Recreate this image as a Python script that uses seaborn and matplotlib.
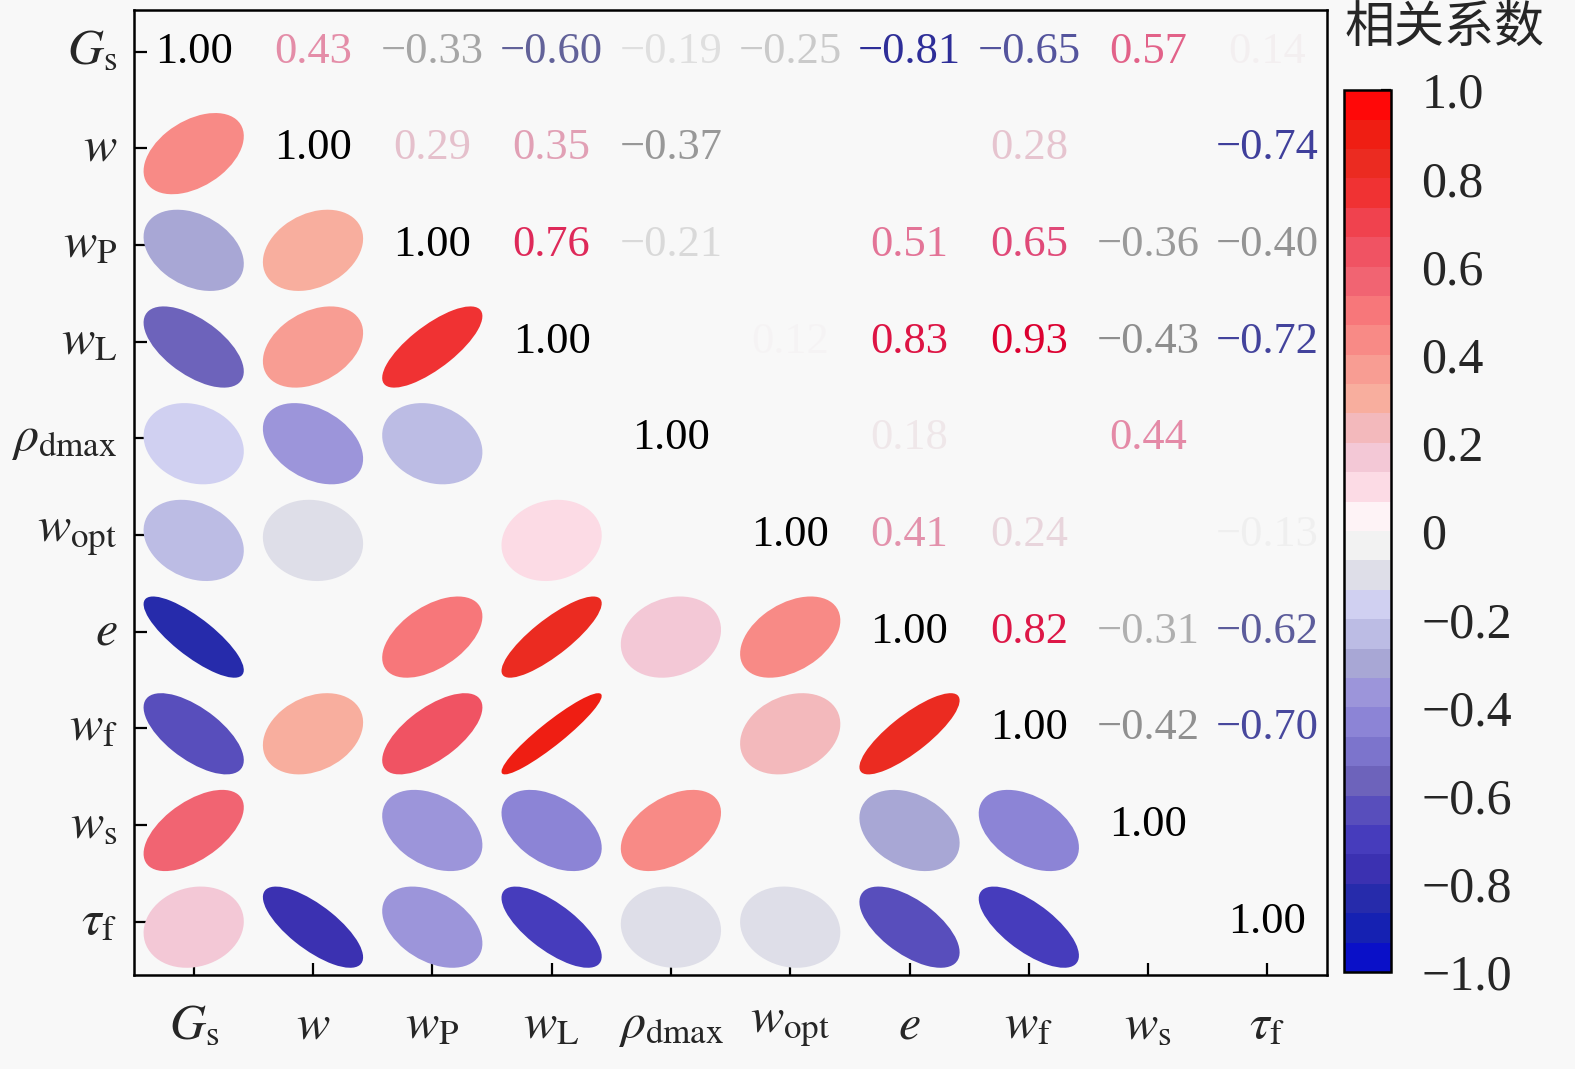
import numpy as np
import pandas as pd
import seaborn as sns
import matplotlib.pyplot as plt
from matplotlib.patches import Ellipse
from matplotlib.colors import LinearSegmentedColormap

# variable names (mathtext)
labels = [r"$G_{\rm s}$", r"$w$", r"$w_{\rm P}$", r"$w_{\rm L}$", r"$\rho_{\rm dmax}$",
          r"$w_{\rm opt}$", r"$e$", r"$w_{\rm f}$", r"$w_{\rm s}$", r"$\tau_{\rm f}$"]

# upper triangle of the correlation matrix, row by row (right of the diagonal)
gs_row = [0.43, -0.33, -0.60, -0.19, -0.25, -0.81, -0.65, 0.57, 0.14]
w_row = [0.29, 0.35, -0.37, -0.08, 0.01, 0.28, 0.03, -0.74]
wp_row = [0.76, -0.21, 0.02, 0.51, 0.65, -0.36, -0.40]
wl_row = [0.02, 0.12, 0.83, 0.93, -0.43, -0.72]
rho_row = [-0.01, 0.18, 0.03, 0.44, -0.08]
wopt_row = [0.41, 0.24, 0.02, -0.13]
e_row = [0.82, -0.31, -0.62]
wf_row = [-0.42, -0.70]
ws_row = [-0.02]

cbar_ticks = [-1.0, -0.8, -0.6, -0.4, -0.2, 0.0, 0.2, 0.4, 0.6, 0.8, 1.0]
cbar_ticklabels = ["\u22121.0", "\u22120.8", "\u22120.6", "\u22120.4", "\u22120.2", "0",
                   "0.2", "0.4", "0.6", "0.8", "1.0"]

n = len(labels)
corr = np.eye(n)
for i, row in enumerate([gs_row, w_row, wp_row, wl_row, rho_row, wopt_row, e_row, wf_row, ws_row]):
    for k, v in enumerate(row):
        corr[i, i + 1 + k] = v
        corr[i + 1 + k, i] = v
df = pd.DataFrame(corr, index=labels, columns=labels)

cmap = LinearSegmentedColormap.from_list("corr", [
    (0.00, "#0a10c8"), (0.05, "#1a28a8"), (0.10, "#3a30b0"), (0.15, "#4a40c0"),
    (0.20, "#6a60b8"), (0.25, "#8078d0"), (0.30, "#9890dc"), (0.35, "#aaaad4"),
    (0.40, "#c8c8f0"), (0.435, "#dcdcf2"), (0.46, "#e0e0e0"), (0.50, "#ffffff"),
    (0.55, "#fcdce6"), (0.60, "#f0c0d0"), (0.65, "#f8b0a0"), (0.70, "#f89890"),
    (0.75, "#f87c7c"), (0.80, "#f06070"), (0.85, "#f04858"), (0.90, "#f03030"),
    (0.95, "#e82818"), (1.00, "#ff0808")], N=30)
# number colours: grey -> navy for negative, pale pink -> crimson for positive
neg_txt = LinearSegmentedColormap.from_list("neg_txt", ["#b4b4b4", "#8e8e8e", "#50509e", "#1a1a95"])
pos_txt = LinearSegmentedColormap.from_list("pos_txt", ["#dcc4cc", "#e48ca8", "#e04474", "#dc0030"])

bg = "#f8f8f8"
sns.set_theme(style="ticks")
plt.rcParams["font.family"] = ["Liberation Serif", "DejaVu Serif"]
plt.rcParams["mathtext.fontset"] = "stix"

fig = plt.figure(figsize=(15.75, 10.69), dpi=100, facecolor=bg)
ax = fig.add_axes([0.0851, 0.0879, 0.7575, 0.9027])
cax = fig.add_axes([0.8535, 0.0907, 0.0295, 0.825])
ax.set_facecolor(bg)

# heatmap draws nothing in the cells (all masked) but gives the grid and colorbar
sns.heatmap(df, mask=np.ones_like(corr, dtype=bool), cmap=cmap, vmin=-1, vmax=1,
            ax=ax, cbar_ax=cax, cbar=True)
cbar = ax.collections[0].colorbar

d = 0.84
for i in range(n):
    for j in range(n):
        r = corr[i, j]
        x, y = j + 0.5, i + 0.5
        if i > j:
            if abs(r) < 0.05:
                continue
            ell = Ellipse((x, y + 0.055), width=d * np.sqrt(1 + abs(r)), height=d * np.sqrt(1 - abs(r)),
                          angle=-45 if r > 0 else 45, facecolor=cmap((r + 1) / 2),
                          edgecolor="none", zorder=3)
            ax.add_patch(ell)
        elif i == j:
            ax.text(x, y, "1.00", ha="center", va="center", fontsize=32, color="black", zorder=4)
        else:
            t = float(np.clip((abs(r) - 0.2) / 0.7, 0, 1))
            c = pos_txt(t) if r > 0 else neg_txt(t)
            a = float(np.clip((abs(r) - 0.1) / 0.25, 0, 1))
            txt = f"{r:.2f}".replace("-", "\u2212")
            ax.text(x, y, txt, ha="center", va="center", fontsize=32, color=c[:3],
                    alpha=a, zorder=4)

ax.set_xlim(0, n)
ax.set_ylim(10.05, 0.07)
ax.set_xticks(np.arange(n) + 0.5)
ax.set_yticks(np.arange(n) + 0.5)
ax.set_xticklabels(labels, rotation=0, fontsize=36)
ax.set_yticklabels(labels, rotation=0, fontsize=36)
ax.tick_params(axis="both", direction="in", length=9, width=1.6, color="black")
ax.tick_params(axis="x", pad=20)
ax.tick_params(axis="y", pad=12)
ax.set_xlabel("")
ax.set_ylabel("")
for sp in ax.spines.values():
    sp.set_visible(True)
    sp.set_linewidth(1.8)
    sp.set_color("black")

cbar.set_ticks(cbar_ticks)
cbar.set_ticklabels(cbar_ticklabels, fontsize=36)
cax.tick_params(direction="in", length=7, width=1.6, pad=22, color="black")
cbar.outline.set_visible(True)
cbar.outline.set_linewidth(1.8)
cbar.outline.set_edgecolor("black")

fig.text(0.917, 0.974, "相关系数", ha="center", va="center", fontsize=36,
         family=["Noto Sans CJK SC", "DejaVu Sans"])

fig.savefig("out.png", dpi=100, facecolor=bg)
